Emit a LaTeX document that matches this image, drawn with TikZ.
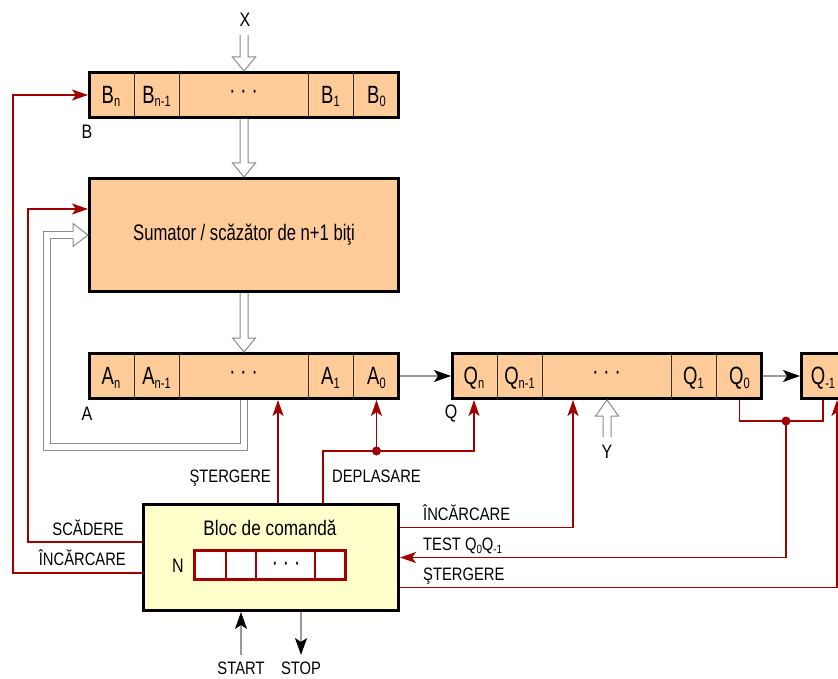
\documentclass[tikz,border=0pt]{standalone}
\usepackage{fontspec}
\setmainfont{Liberation Sans}[FakeStretch=0.82]
\newfontfamily\narrowsans{Liberation Sans}[FakeStretch=0.74]
\usetikzlibrary{arrows.meta,calc}
\definecolor{regfill}{HTML}{FFCC99}
\definecolor{ctlfill}{HTML}{FFFFCC}
\definecolor{sigred}{HTML}{A00000}
\definecolor{wiregray}{HTML}{9A9A9A}
\definecolor{hollowgray}{HTML}{8A8A8A}
\newcommand\rsub[1]{\raisebox{-3.5pt}{\fontsize{15}{15}\selectfont #1}}
\newcommand\tsub[1]{\raisebox{-3pt}{\fontsize{12}{12}\selectfont #1}}
\newcommand\hollowdown[2]{%
  \filldraw[hollow] let \p1=#1, \p2=#2 in
    (\x2-4pt,\y1) -- (\x2-4pt,\y2+14pt) -- (\x2-11.5pt,\y2+14pt) -- (\x2,\y2)
    -- (\x2+11.5pt,\y2+14pt) -- (\x2+4pt,\y2+14pt) -- (\x2+4pt,\y1);}
\newcommand\hollowup[2]{%
  \filldraw[hollow] let \p1=#1, \p2=#2 in
    (\x2-4pt,\y1) -- (\x2-4pt,\y2-16pt) -- (\x2-11.5pt,\y2-16pt) -- (\x2,\y2)
    -- (\x2+11.5pt,\y2-16pt) -- (\x2+4pt,\y2-16pt) -- (\x2+4pt,\y1);}
% register: #1 name, #2 letter, #3 left outer x, #4 centre y
\newcommand\register[4]{%
  \node[reg] (#1) at (#3+156,#4) {};
  \foreach \d in {46,91,220,265}
    \draw[divider] (#3+\d,#4-22.5) -- (#3+\d,#4+22.5);
  \node[celltext] (#1n) at (#3+23,#4+8.5) {#2\rsub{n}};
  \node[celltext] (#1m) at (#3+68.5,#4+8.5) {#2\rsub{n-1}};
  \node[celltext] (#1d) at (#3+155.5,#4+3.5) {·\hspace{5pt}·\hspace{5pt}·};
  \node[celltext] (#1a) at (#3+242.5,#4+8.5) {#2\rsub{1}};
  \node[celltext] (#1z) at (#3+288.5,#4+8.5) {#2\rsub{0}};
}
\begin{document}
\begin{tikzpicture}[x=1pt,y=-1pt,
  every node/.style={inner sep=0pt},
  reg/.style={draw=black, line width=3pt, fill=regfill, minimum width=309pt, minimum height=45pt},
  divider/.style={draw=black!80, line width=0.7pt},
  celltext/.style={anchor=base, font=\narrowsans\fontsize{25}{25}\selectfont},
  lbl/.style={font=\fontsize{18}{18}\selectfont},
  biglbl/.style={font=\fontsize{19.5}{19.5}\selectfont},
  redw/.style={draw=sigred, line width=1.8pt},
  redarr/.style={redw, -{Stealth[length=16pt,width=11pt,inset=4pt]}},
  wirearr/.style={draw=wiregray, line width=1.5pt, -{Stealth[length=17pt,width=12pt,inset=4pt,color=black]}},
  hollow/.style={draw=hollowgray, line width=1pt, fill=white},
  hollowline/.style={draw=hollowgray, line width=1pt, double=white, double distance=6pt},
  jdot/.style={fill=sigred}]
\useasboundingbox (0,0) rectangle (838,679);
\clip (0,0) rectangle (838,679);

% registers
\register{B}{B}{88}{95}
\register{A}{A}{88}{376}
\register{Q}{Q}{451}{376}
\node[reg, minimum width=43pt] (Qx) at (823,376) {};
\node[celltext] (Qxt) at (823,384.5) {Q\rsub{-1}};

% adder
\node[draw=black, line width=3pt, fill=regfill, minimum width=309pt, minimum height=113pt,
      font=\narrowsans\fontsize{22.5}{22.5}\selectfont] (S) at (244,235) {Sumator / scăzător de n+1 biţi};

% control block
\node[draw=black, line width=3pt, fill=ctlfill, minimum width=255pt, minimum height=106pt] (Bloc) at (271,557.5) {};
\node[font=\fontsize{21}{21}\selectfont] (title) at (270,528) {Bloc de comandă};
\node[draw=sigred, line width=3pt, fill=white, minimum width=151pt, minimum height=29pt] (N) at (270,565) {};
\foreach \d in {226,256,315}
  \draw[draw=sigred, line width=1.2pt] (\d,551) -- (\d,579);
\node[celltext] (Nd) at (286,570) {·\hspace{5pt}·\hspace{5pt}·};
\node[biglbl] (Nl) at (178,566) {N};

% register names and inputs
\node[biglbl] (X) at (245,20) {X};
\node[biglbl] (Bl) at (87,132) {B};
\node[biglbl] (Al) at (87,414) {A};
\node[biglbl] (Ql) at (451,414) {Q};
\node[biglbl] (Y) at (607,452) {Y};

% hollow bus arrows
\coordinate (xin) at (244,35);
\hollowdown{(xin)}{(B.north)}
\hollowdown{(B.south)}{(S.north)}
\hollowdown{(S.south)}{(A.north)}
\coordinate (yin) at (607,437);
\hollowup{(yin)}{(Q.south)}
\draw[hollowline] (A.south) |- (47,447) |- (73,235);
\filldraw[hollow] (73,231.5) -- (73,223.5) -- (S.west) -- (73,246.5) -- (73,238.5);

% serial wires
\draw[wirearr] (A.east) -- (Q.west);
\draw[wirearr] (Q.east) -- (Qx.west);

% control signals, left
\draw[redarr] ([yshift=-15.5pt]Bloc.west) -| (13,0 |- B.west) -- (B.west);
\draw[redarr] ([yshift=15.5pt]Bloc.west) -| (28,209) -- ([yshift=26pt]S.west);
\node[lbl, anchor=base east] (scad) at (124,535) {SCĂDERE};
\node[lbl, anchor=base east] (incL) at (126,565) {ÎNCĂRCARE};

% control signals, top
\draw[redarr] (278,0 |- Bloc.north) -- (278,0 |- A.south);
\node[lbl, anchor=base east] (stA) at (271,482) {ŞTERGERE};
\coordinate (jA) at (Az |- 0,451);
\draw[redarr] (323,0 |- Bloc.north) |- (Qn |- 0,451) -- (Qn |- Q.south);
\draw[redarr] (jA) -- (jA |- A.south);
\fill[jdot] (jA) circle (4.5);
\node[lbl, anchor=base west] (depl) at (332,482) {DEPLASARE};

% control signals, right
\draw[redarr] ([yshift=30pt]Bloc.east) -| (573,0 |- Q.south);
\node[lbl, anchor=base west] (incR) at (423,520) {ÎNCĂRCARE};
\coordinate (jT) at (786,421);
\draw[redw] (Qz |- Q.south) |- (Qx.south |- jT) -- (Qx.south);
\draw[redarr] (jT) |- (Bloc.east);
\fill[jdot] (jT) circle (4.5);
\node[lbl, anchor=base west] (test) at (423,550) {TEST Q\tsub{0}Q\tsub{-1}};
\draw[redarr] ([yshift=-30pt]Bloc.east) -| (837,0 |- Qx.south);
\node[lbl, anchor=base west] (stQ) at (423,580) {ŞTERGERE};

% start / stop
\node[lbl, anchor=base] (START) at (241,674) {START};
\node[lbl, anchor=base] (STOP) at (301,674) {STOP};
\draw[wirearr] (START |- 0,655) -- (START |- Bloc.south);
\draw[wirearr] (STOP |- Bloc.south) -- (STOP |- 0,655);
\end{tikzpicture}
\end{document}
